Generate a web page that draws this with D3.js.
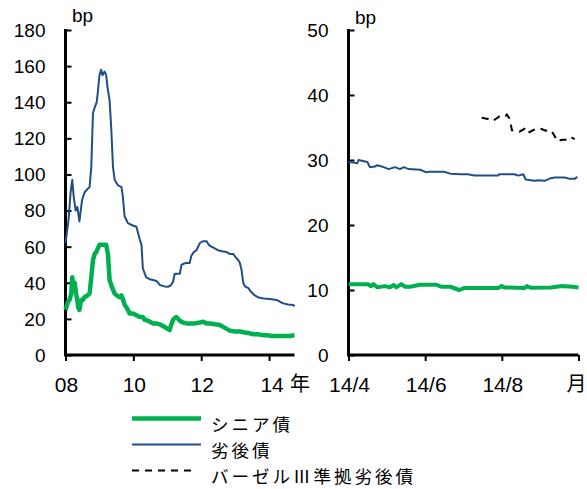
<!DOCTYPE html>
<html><head><meta charset="utf-8">
<script src="https://cdn.jsdelivr.net/npm/d3@7"></script>
<style>
body{margin:0;background:#fff}
text{font-family:"Liberation Sans",Arial,"Noto Sans CJK JP",sans-serif;fill:#000}
.jp{font-family:"Noto Sans CJK JP",sans-serif}
</style>
</head><body><svg id="c" width="587" height="489"></svg>
<script>
// ---------- data ----------
const leftYTicks = [0,20,40,60,80,100,120,140,160,180];
const leftXTicks = [2008,2010,2012,2014];
const leftXLabels = ["08","10","12","14"];
const rightYTicks = [0,10,20,30,40,50];
const rightXTicks = ["2014-04-01","2014-06-01","2014-08-01","2014-10-01"];
const rightXLabels = ["14/4","14/6","14/8","月"];
const legendLabels = ["シニア債","劣後債","バーゼルⅢ準拠劣後債"];

// left panel (decimal year)
const subYears = [2008.00,2008.09,2008.15,2008.20,2008.24,2008.30,2008.35,2008.41,2008.49,2008.56,2008.65,2008.71,2008.76,2008.81,2008.86,2008.92,2008.95,2009.00,2009.05,2009.09,2009.15,2009.20,2009.24,2009.30,2009.35,2009.40,2009.45,2009.51,2009.55,2009.65,2009.69,2009.74,2009.84,2009.95,2010.09,2010.19,2010.24,2010.28,2010.38,2010.48,2010.58,2010.68,2010.78,2010.92,2011.02,2011.10,2011.17,2011.22,2011.37,2011.42,2011.55,2011.66,2011.71,2011.78,2011.86,2011.96,2012.05,2012.16,2012.22,2012.30,2012.40,2012.50,2012.61,2012.75,2012.84,2012.94,2013.02,2013.09,2013.14,2013.19,2013.24,2013.29,2013.39,2013.47,2013.58,2013.67,2013.83,2014.03,2014.22,2014.32,2014.42,2014.56,2014.71,2014.75];
const subValues = [62,75,90,97,88,80,82,74,86,90,92,93,104,134,137,140,145,155,158,155,157,155,148,141,125,104,97,95,94,93,88,77,73,72,71,64,61,48,43,42,41.5,41,38.8,38,37.8,38.5,40.6,45,45,50,51,51,55,57,58,62,63,63,61,60,59,58,57.5,57,56,56,54,52.6,51,47,40,38,37,35,33,32,31.3,31,30.5,29.5,28.6,28,27.7,27];

const seniorYears = [2008.00,2008.02,2008.07,2008.12,2008.17,2008.20,2008.24,2008.27,2008.32,2008.35,2008.38,2008.41,2008.46,2008.51,2008.56,2008.65,2008.71,2008.76,2008.81,2008.86,2008.91,2008.95,2009.00,2009.05,2009.12,2009.20,2009.25,2009.30,2009.36,2009.45,2009.51,2009.60,2009.65,2009.69,2009.74,2009.84,2009.89,2009.99,2010.09,2010.19,2010.28,2010.33,2010.38,2010.48,2010.58,2010.68,2010.78,2010.92,2011.01,2011.07,2011.12,2011.17,2011.22,2011.27,2011.37,2011.46,2011.57,2011.66,2011.81,2011.96,2012.06,2012.16,2012.25,2012.40,2012.55,2012.70,2012.84,2012.99,2013.14,2013.29,2013.43,2013.53,2013.67,2013.82,2013.93,2014.09,2014.26,2014.42,2014.61,2014.75];
const seniorValues = [25,26,29.5,30.5,34,43,36,40,33,30,26,25,30.5,30.5,32,33,34,43,52.6,56,57,59,61,61,61,61,56,41.5,38,34,33,32,33,31,28,25,23,23,22,21,21,19.5,19.4,18.5,17.5,17.5,17,15.5,14.5,13.8,17,19.4,20.5,21,19,18,17.5,17.5,17.5,18,18.4,17.5,17.5,17,16.6,15,13.5,13,13,12.5,12,11.5,11.5,11,11,10.5,10.5,10.5,10.5,11];

// right panel (dates)
const subDates = ["2014-04-01","2014-04-05","2014-04-08","2014-04-09","2014-04-16","2014-04-18","2014-04-22","2014-04-24","2014-04-29","2014-05-03","2014-05-08","2014-05-12","2014-05-15","2014-05-19","2014-05-28","2014-06-02","2014-06-04","2014-06-08","2014-06-16","2014-06-21","2014-06-29","2014-07-05","2014-07-10","2014-07-18","2014-07-29","2014-07-30","2014-08-11","2014-08-14","2014-08-18","2014-08-20","2014-08-27","2014-08-30","2014-09-04","2014-09-09","2014-09-12","2014-09-20","2014-09-24","2014-09-28","2014-09-30"];
const subRecent = [29.7,29.6,29.5,30.0,29.7,28.9,29.0,29.2,28.9,28.6,28.9,28.6,28.9,28.6,28.5,28.1,28.2,28.2,28.2,27.9,27.8,27.8,27.6,27.6,27.6,27.8,27.8,27.6,27.8,27.0,26.8,26.9,26.8,27.2,27.3,27.3,27.1,27.1,27.4];

const seniorDates = ["2014-04-01","2014-04-16","2014-04-19","2014-04-21","2014-04-24","2014-04-30","2014-05-04","2014-05-07","2014-05-09","2014-05-13","2014-05-16","2014-05-20","2014-05-28","2014-06-06","2014-06-10","2014-06-14","2014-06-21","2014-06-28","2014-07-02","2014-07-29","2014-08-01","2014-08-03","2014-08-19","2014-08-21","2014-08-24","2014-09-09","2014-09-18","2014-09-26","2014-10-01"];
const seniorRecent = [10.9,10.9,10.6,10.9,10.4,10.6,10.4,10.8,10.4,10.9,10.5,10.5,10.8,10.8,10.8,10.5,10.5,10.0,10.3,10.3,10.6,10.4,10.3,10.6,10.35,10.4,10.6,10.5,10.4];

const baselDates = ["2014-07-16","2014-07-21","2014-07-25","2014-07-26","2014-07-30","2014-08-02","2014-08-04","2014-08-05","2014-08-07","2014-08-08","2014-08-09","2014-08-11","2014-08-15","2014-08-19","2014-08-21","2014-08-25","2014-08-28","2014-09-01","2014-09-05","2014-09-09","2014-09-12","2014-09-14","2014-09-18","2014-09-22","2014-09-24","2014-09-26","2014-09-28"];
const baselValues = [36.5,36.3,36.0,36.15,36.7,36.9,36.8,37.0,36.4,35.6,34.6,34.5,34.35,34.8,34.1,34.5,34.8,34.8,34.5,34.6,33.7,32.9,33.1,33.1,33.5,33.4,33.2];

// ---------- drawing ----------
const GREEN = "#00B050", BLUE = "#1F4E89";
const svg = d3.select("#c");
const parse = d3.timeParse("%Y-%m-%d");
const Y0 = 355, Y1 = 30;

// left scales
const xL = d3.scaleLinear().domain([2008, 2014.75]).range([65.5, 294.5]);
const yL = d3.scaleLinear().domain([0, 180]).range([Y0, Y1]);
// right scales
const xR = d3.scaleTime().domain([parse("2014-04-01"), parse("2014-10-01")]).range([348.5, 578.5]);
const yR = d3.scaleLinear().domain([0, 50]).range([Y0, Y1]);

function yAxis(scale, x, ticks) {
  const g = svg.append("g").attr("transform", `translate(${x},0)`)
    .call(d3.axisRight(scale).tickValues(ticks).tickSize(6).tickFormat(""));
  g.select(".domain").remove();
  g.selectAll(".tick line").attr("stroke", "#000").attr("stroke-width", 2);
  g.append("line").attr("x1", 0).attr("x2", 0).attr("y1", Y1 - 1).attr("y2", Y0 + 1)
    .attr("stroke", "#000").attr("stroke-width", 3);
  ticks.forEach(t => {
    svg.append("text").attr("x", x - 20).attr("y", scale(t)).attr("dy", "0.36em")
      .attr("text-anchor", "end").attr("font-size", 19).text(t);
  });
}
function xAxis(scale, ticks) {
  const g = svg.append("g").attr("transform", `translate(0,${Y0})`)
    .call(d3.axisBottom(scale).tickValues(ticks).tickSize(6).tickFormat(""));
  g.select(".domain").remove();
  g.selectAll(".tick line").attr("stroke", "#000").attr("stroke-width", 2);
  const r = scale.range();
  g.append("line").attr("x1", r[0] - 1.5).attr("x2", r[1]).attr("y1", 0).attr("y2", 0)
    .attr("stroke", "#000").attr("stroke-width", 3);
}

// left axes
yAxis(yL, 65.5, leftYTicks);
xAxis(xL, leftXTicks);
leftXTicks.forEach((t, i) => {
  svg.append("text").attr("x", xL(t) + (i === 3 ? 3 : 1)).attr("y", 392)
    .attr("text-anchor", "middle").attr("font-size", 21).text(leftXLabels[i]);
});
svg.append("text").attr("class", "jp").attr("x", 300).attr("y", 391)
  .attr("text-anchor", "middle").attr("font-size", 20).text("年");
svg.append("text").attr("x", 72).attr("y", 22).attr("font-size", 19).text("bp");

// right axes
yAxis(yR, 348.5, rightYTicks);
const rTicks = rightXTicks.map(parse);
xAxis(xR, rTicks);
rTicks.forEach((t, i) => {
  const last = i === rTicks.length - 1;
  svg.append("text").attr("class", last ? "jp" : null)
    .attr("x", xR(t) + (last ? -2 : 1)).attr("y", last ? 391 : 392)
    .attr("text-anchor", "middle").attr("font-size", last ? 20 : 21).text(rightXLabels[i]);
});
svg.append("text").attr("x", 355).attr("y", 24).attr("font-size", 19).text("bp");

// lines
const lineL = d3.line().x(d => xL(d[0])).y(d => yL(d[1]));
const lineR = d3.line().x(d => xR(d[0])).y(d => yR(d[1]));

svg.append("path").datum(subYears.map((t, i) => [t, subValues[i]]))
  .attr("d", lineL).attr("fill", "none").attr("stroke", BLUE).attr("stroke-width", 2).attr("stroke-linejoin", "round");
svg.append("path").datum(seniorYears.map((t, i) => [t, seniorValues[i]]))
  .attr("d", lineL).attr("fill", "none").attr("stroke", GREEN).attr("stroke-width", 4.5).attr("stroke-linejoin", "round");

svg.append("path").datum(subDates.map((t, i) => [parse(t), subRecent[i]]))
  .attr("d", lineR).attr("fill", "none").attr("stroke", BLUE).attr("stroke-width", 2).attr("stroke-linejoin", "round");
svg.append("path").datum(seniorDates.map((t, i) => [parse(t), seniorRecent[i]]))
  .attr("d", lineR).attr("fill", "none").attr("stroke", GREEN).attr("stroke-width", 4).attr("stroke-linejoin", "round");
svg.append("path").datum(baselDates.map((t, i) => [parse(t), baselValues[i]]))
  .attr("d", lineR).attr("fill", "none").attr("stroke", "#000").attr("stroke-width", 2).attr("stroke-dasharray", "7,6");

// legend
const legendStyles = [
  {color: GREEN, width: 4.5, dash: null},
  {color: BLUE, width: 2, dash: null},
  {color: "#000", width: 2, dash: "7,6"}
];
legendLabels.forEach((lab, i) => {
  const y = 418.5 + i * 26;
  const s = legendStyles[i];
  svg.append("line").attr("x1", 132).attr("x2", i === 2 ? 197 : 201).attr("y1", y).attr("y2", y)
    .attr("stroke", s.color).attr("stroke-width", s.width).attr("stroke-dasharray", s.dash);
  svg.append("text").attr("class", "jp").attr("x", 211).attr("y", y + 12)
    .attr("font-size", 17.5).attr("letter-spacing", 3).text(lab);
});
</script>
</body></html>
